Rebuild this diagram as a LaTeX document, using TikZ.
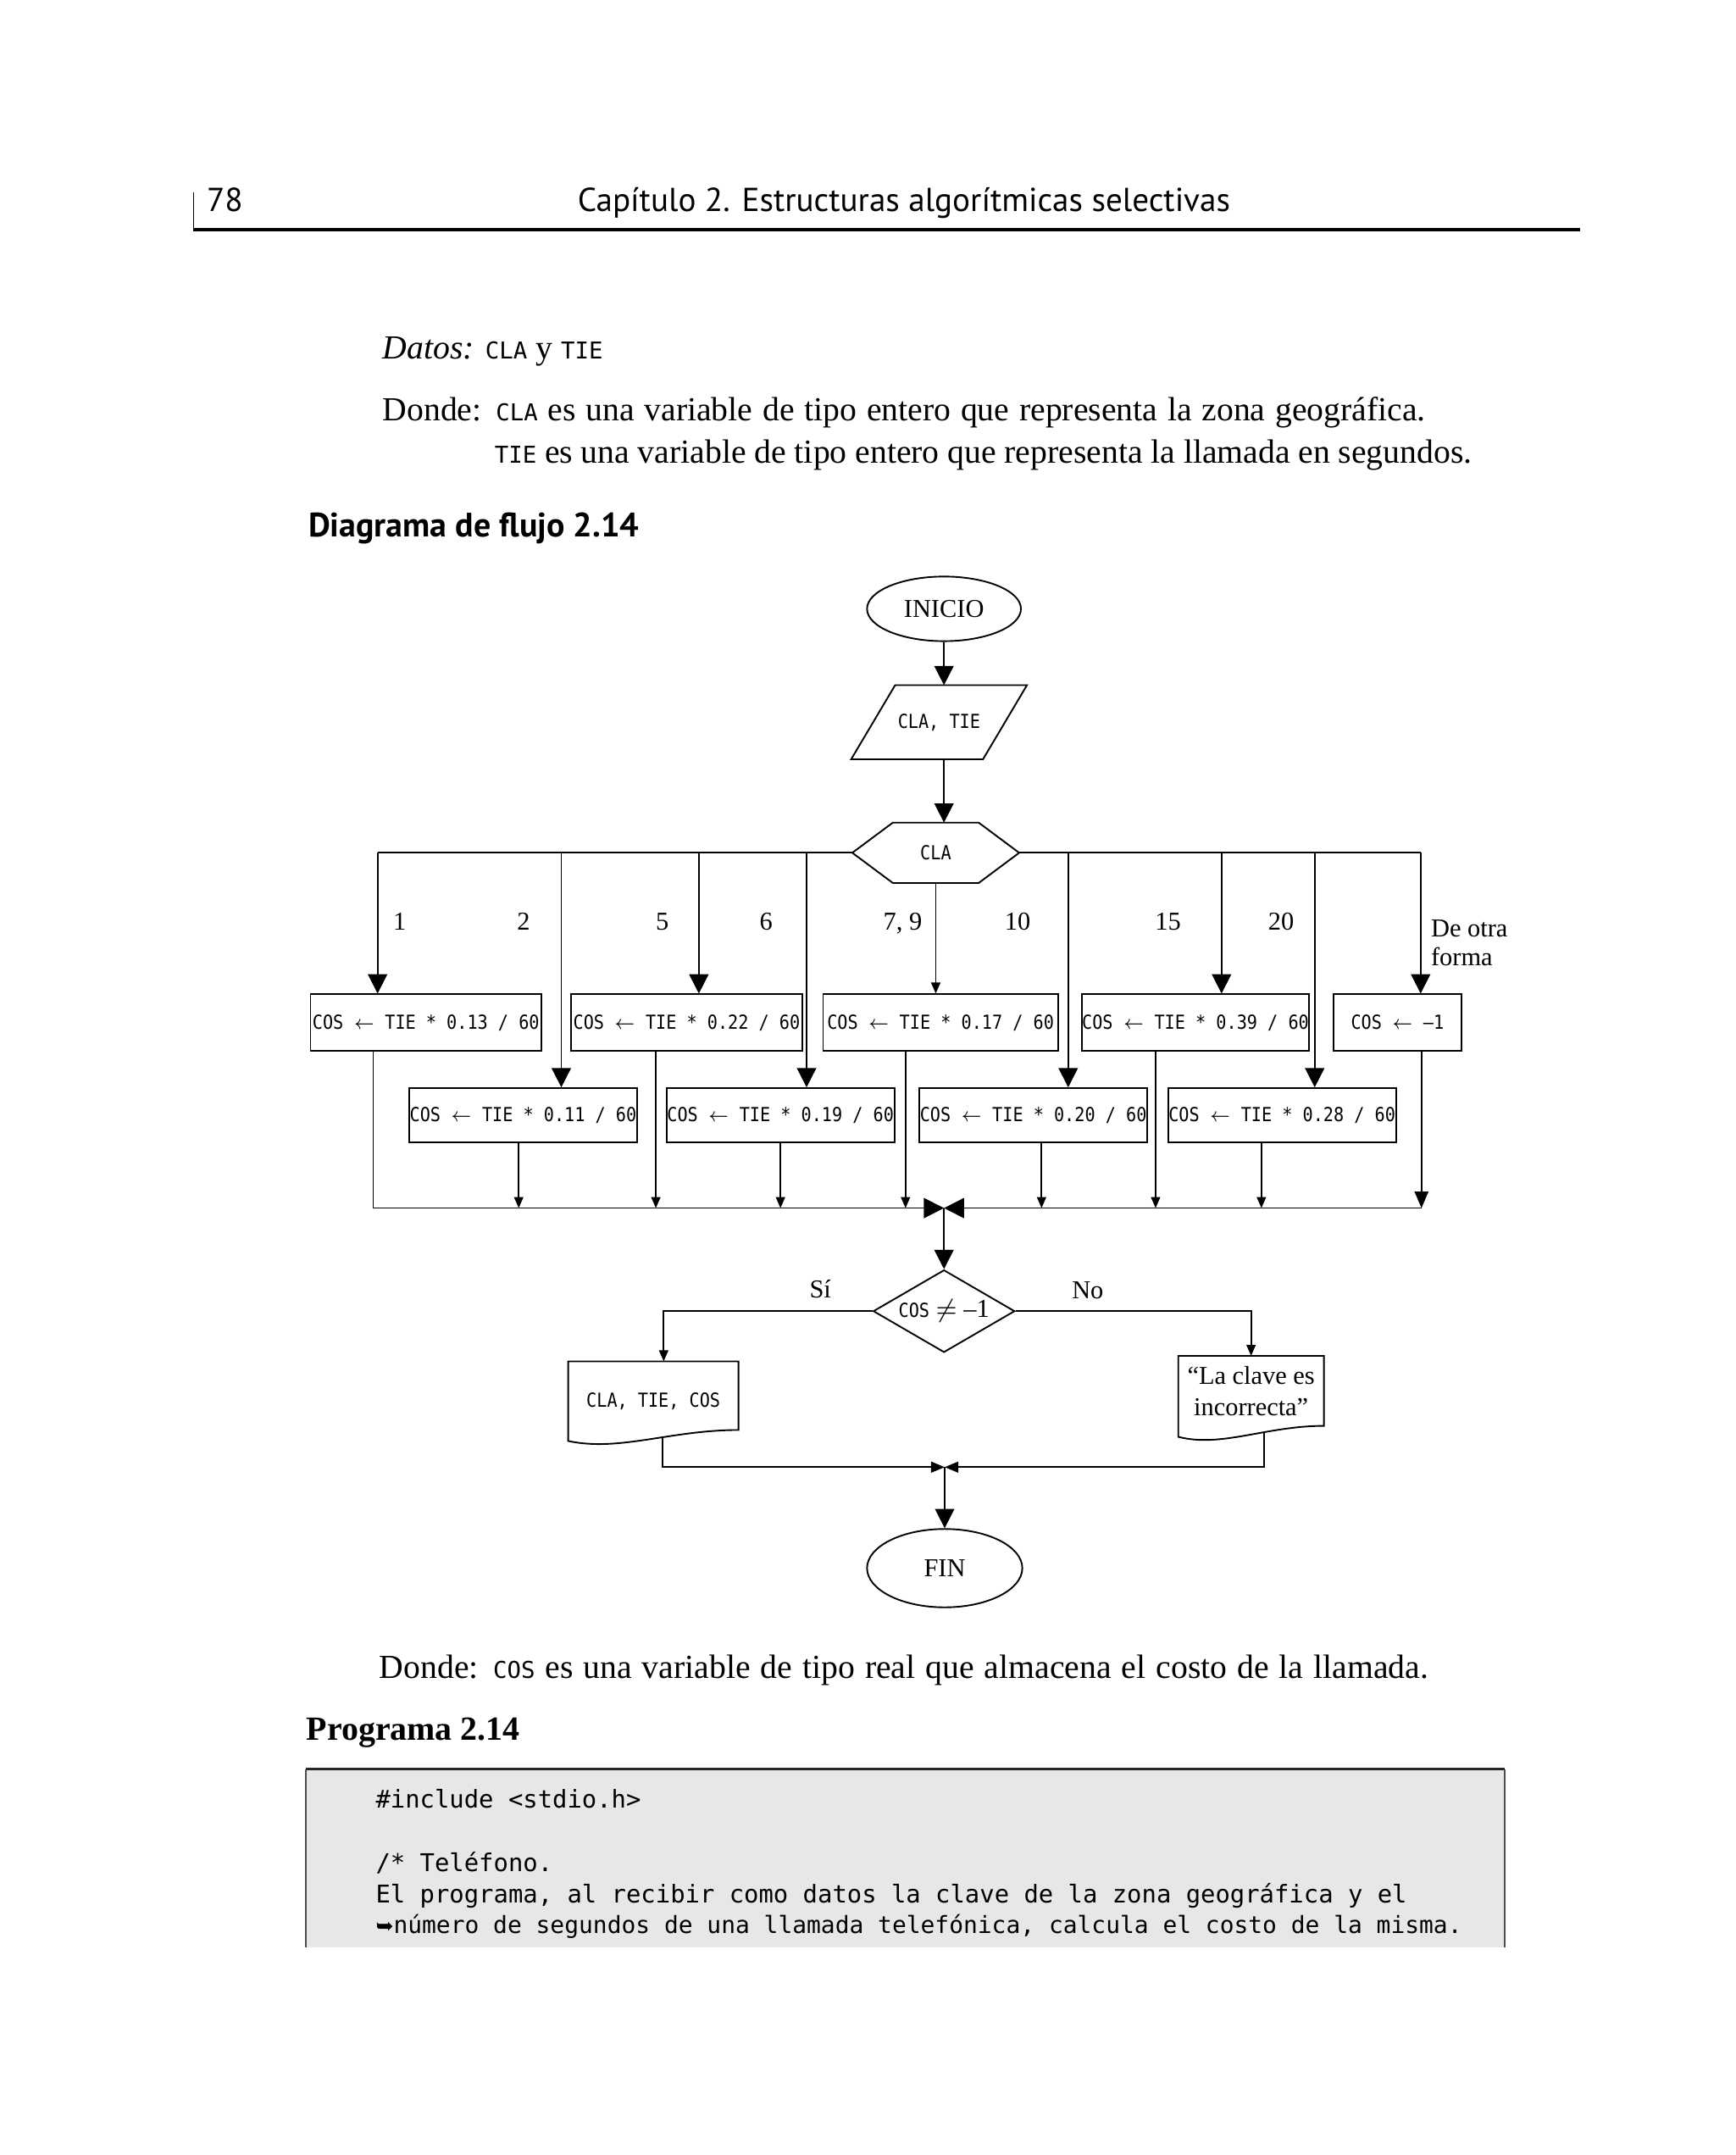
\documentclass[tikz,border=0pt]{standalone}
\usepackage{fontspec}
\setmainfont{Liberation Serif}
\setsansfont{PT Sans}
\setmonofont{DejaVu Sans Mono}
\newfontfamily\symfont{DejaVu Sans}
\usetikzlibrary{arrows.meta,shapes.geometric,calc}

\newcommand{\vtt}[1]{{\ttfamily\fontsize{7.2}{8}\selectfont #1}}
\newcommand{\ftt}[1]{\scalebox{0.885}[1]{\ttfamily\fontsize{6}{7}\selectfont #1}}
\definecolor{codebg}{gray}{0.905}

\begin{document}
\begin{tikzpicture}[x=0.015cm, y=-0.015cm]
    % Styles
    \tikzstyle{txt} = [inner sep=0pt, anchor=base west, font=\fontsize{10.45}{12}\selectfont]
    \tikzstyle{head} = [inner sep=0pt, anchor=base west, font=\sffamily\fontsize{10.3}{12}\selectfont]
    \tikzstyle{code} = [inner sep=0pt, anchor=base west, font=\ttfamily\fontsize{7.6}{9}\selectfont]
    \tikzstyle{terminal} = [ellipse, draw, line width=0.5pt, inner sep=0pt, font=\fontsize{8}{9}\selectfont]
    \tikzstyle{proc} = [rectangle, draw, line width=0.5pt, minimum width=2.49cm, minimum height=0.615cm,
                        inner sep=0pt]
    \tikzstyle{shapebox} = [rectangle, inner sep=0pt]
    \tikzstyle{decision} = [diamond, draw, line width=0.5pt, aspect=1.72, minimum width=1.545cm, minimum height=0.9cm,
                            inner sep=0pt, font=\fontsize{8}{9}\selectfont]
    \tikzstyle{lbl} = [inner sep=0pt, font=\fontsize{8}{9}\selectfont]
    \tikzstyle{outline} = [line width=0.5pt]
    \tikzstyle{arrow} = [line width=0.45pt, -{Triangle[length=0.21cm, width=0.21cm]}]
    \tikzstyle{arrowmd} = [line width=0.45pt, -{Triangle[length=0.18cm, width=0.15cm]}]
    \tikzstyle{arrowsm} = [line width=0.45pt, -{Triangle[length=0.12cm, width=0.1cm]}]
    \tikzstyle{bow} = [line width=0.45pt, -{Triangle[length=0.22cm, width=0.22cm]}]
    \tikzstyle{bowsm} = [line width=0.45pt, -{Triangle[length=0.15cm, width=0.12cm]}]

    \useasboundingbox (0,0) rectangle (1263,1568);

    % Page head
    \draw [line width=0.4pt] (141,140) -- (141,167);
    \draw [line width=1pt] (140.8,167) -- (1150,167);
    \node (pag) [head] at (150,153.6) {78};
    \node (cap) [head] at (420,153.6) {Capítulo 2. Estructuras algorítmicas selectivas};

    % Text before the chart
    \node (datostxt) [txt] at (278,261) {\textit{Datos:} \vtt{CLA} y \vtt{TIE}};
    \node (donde1) [txt] at (278,306)
        {\makebox[11.385cm][s]{Donde: \vtt{CLA} es una variable de tipo entero que representa la zona geográfica.}};
    \node (donde2) [txt] at (359.5,337)
        {\makebox[10.67cm][s]{\vtt{TIE} es una variable de tipo entero que representa la llamada en segundos.}};
    \node (tit1) [head, font=\sffamily\bfseries\fontsize{10.5}{12}\selectfont] at (224,390.5) {Diagrama de flujo 2.14};

    % Nodes
    \node (inicio) [terminal, minimum width=1.68cm, minimum height=0.705cm] at (687,443) {INICIO};
    \node (datos) [shapebox, minimum width=1.905cm, minimum height=0.795cm] at (683.4,525.5) {\ftt{CLA, TIE}};
    \node (cla) [shapebox, minimum width=1.8075cm, minimum height=0.645cm] at (681,620.5) {\ftt{CLA}};

    \node (c1) [proc, minimum width=2.52cm] at (310,744) {\ftt{COS $\leftarrow$ TIE * 0.13 / 60}};
    \node (c5) [proc, minimum width=2.52cm] at (499.7,744) {\ftt{COS $\leftarrow$ TIE * 0.22 / 60}};
    \node (c79) [proc, minimum width=2.565cm] at (684.5,744) {\ftt{COS $\leftarrow$ TIE * 0.17 / 60}};
    \node (c15) [proc, minimum width=2.46cm] at (870,744) {\ftt{COS $\leftarrow$ TIE * 0.39 / 60}};
    \node (cotra) [proc, minimum width=1.395cm] at (1017,744) {\ftt{COS $\leftarrow$ –1}};

    \node (c2) [proc, minimum height=0.5925cm] at (380.7,811.5) {\ftt{COS $\leftarrow$ TIE * 0.11 / 60}};
    \node (c6) [proc, minimum height=0.5925cm] at (568,811.5) {\ftt{COS $\leftarrow$ TIE * 0.19 / 60}};
    \node (c10) [proc, minimum height=0.5925cm] at (752,811.5) {\ftt{COS $\leftarrow$ TIE * 0.20 / 60}};
    \node (c20) [proc, minimum height=0.5925cm] at (933,811.5) {\ftt{COS $\leftarrow$ TIE * 0.28 / 60}};

    \node (cond) [decision] at (687,954) {\ftt{COS} $\neq$ –1};
    \node (dsal) [shapebox, minimum width=1.845cm, minimum height=0.735cm, text height=0.246cm, text depth=0cm]
        at (475.5,1015.5) {\ftt{CLA, TIE, COS}};
    \node (dmsg) [shapebox, minimum width=1.575cm, minimum height=0.75cm, align=center,
                  font=\fontsize{8}{9.8}\selectfont] at (910.5,1012) {“La clave es\\incorrecta”};
    \node (fin) [terminal, minimum width=1.695cm, minimum height=0.855cm] at (687.5,1141) {FIN};

    % Outlines of the shapes drawn round plain nodes
    \draw [outline] ($(datos.north west)+(32,0)$) -- (datos.north east)
        -- ($(datos.south east)+(-32,0)$) -- (datos.south west) -- cycle;
    \draw [outline] (cla.west) -- ($(cla.north west)+(29.5,0)$) -- ($(cla.north east)+(-29.5,0)$)
        -- (cla.east) -- ($(cla.south east)+(-29.5,0)$) -- ($(cla.south west)+(29.5,0)$) -- cycle;
    \draw [outline] (dsal.north west) -- (dsal.north east) -- (dsal.south east)
        .. controls ($(dsal.south east)!0.4!(dsal.south west)$) and ($(dsal.south east)!0.7!(dsal.south west)+(0,16)$)
        .. ($(dsal.south west)+(0,8)$) -- cycle;
    \draw [outline] (dmsg.north west) -- (dmsg.north east) -- (dmsg.south east)
        .. controls ($(dmsg.south east)!0.4!(dmsg.south west)$) and ($(dmsg.south east)!0.7!(dmsg.south west)+(0,16)$)
        .. ($(dmsg.south west)+(0,8)$) -- cycle;

    % Case labels
    \node (l1) [lbl, anchor=base] at (290.8,677) {1};
    \node (l2) [lbl, anchor=base] at (381,677) {2};
    \node (l5) [lbl, anchor=base] at (482,677) {5};
    \node (l6) [lbl, anchor=base] at (557.5,677) {6};
    \node (l79) [lbl, anchor=base] at (657,677) {7, 9};
    \node (l10) [lbl, anchor=base] at (740.6,677) {10};
    \node (l15) [lbl, anchor=base] at (850,677) {15};
    \node (l20) [lbl, anchor=base] at (932.4,677) {20};
    \node (lotra) [lbl, anchor=base west] at (1041,681.5) {De otra};
    \node (lforma) [lbl, anchor=base west] at (1041,702.5) {forma};
    \node (si) [lbl, anchor=base] at (597,944.5) {Sí};
    \node (no) [lbl, anchor=base] at (791.6,945) {No};

    % Branch points
    \coordinate (b1) at (274.8,620.5);
    \coordinate (b2) at (408.5,620.5);
    \coordinate (b5) at (508.6,620.5);
    \coordinate (b6) at (587,620.5);
    \coordinate (b10) at (777.4,620.5);
    \coordinate (b15) at (889,620.5);
    \coordinate (b20) at (956.8,620.5);
    \coordinate (bo) at (1033.9,620.5);
    % Joining points
    \coordinate (join) at (687,879);
    \coordinate (cl) at (271.6,879);
    \coordinate (cr) at (1034.5,879);
    \coordinate (d2) at (377.5,879);
    \coordinate (d5) at (477.3,879);
    \coordinate (d6) at (568,879);
    \coordinate (d79) at (659,879);
    \coordinate (d10) at (758,879);
    \coordinate (d15) at (841,879);
    \coordinate (d20) at (918,879);
    \coordinate (join2) at (687.5,1067.5);

    % Arrows
    \draw [arrow] (inicio) -- (datos.north -| inicio);
    \draw [arrow] (datos.south -| inicio) -- (cla.north -| inicio);
    \draw [line width=0.45pt] (cla.west) -- (b1);
    \draw [line width=0.45pt] (cla.east) -- (bo);
    \draw [arrow] (b1) -- (b1 |- c1.north);
    \draw [arrow] (b2) -- (b2 |- c2.north);
    \draw [arrow] (b5) -- (b5 |- c5.north);
    \draw [arrow] (b6) -- (b6 |- c6.north);
    \draw [arrowsm] (cla.south) -- (cla.south |- c79.north);
    \draw [arrow] (b10) -- (b10 |- c10.north);
    \draw [arrow] (b15) -- (b15 |- c15.north);
    \draw [arrow] (b20) -- (b20 |- c20.north);
    \draw [arrow] (bo) -- (bo |- cotra.north);

    \draw [bow] (c1.south -| cl) -- (cl) -- (join);
    \draw [arrowmd] (cotra.south -| cr) -- (cr);
    \draw [bow] (cr) -- (join);
    \draw [arrowsm] (c2.south -| d2) -- (d2);
    \draw [arrowsm] (c5.south -| d5) -- (d5);
    \draw [arrowsm] (c6.south -| d6) -- (d6);
    \draw [arrowsm] (c79.south -| d79) -- (d79);
    \draw [arrowsm] (c10.south -| d10) -- (d10);
    \draw [arrowsm] (c15.south -| d15) -- (d15);
    \draw [arrowsm] (c20.south -| d20) -- (d20);

    \draw [arrow] (join) -- (cond);
    \draw [arrowsm] (cond.west) -| ($(dsal.north)+(7.5,0)$);
    \draw [arrowsm] (cond.east) -| (dmsg.north);
    \draw [bowsm] ($(dsal.south)+(6.5,5)$) |- (join2);
    \draw [bowsm] ($(dmsg.south)+(9.5,5)$) |- (join2);
    \draw [arrow] (join2) -- (fin);

    % Text after the chart
    \node (donde3) [txt] at (275.7,1221)
        {\makebox[11.45cm][s]{Donde: \vtt{COS} es una variable de tipo real que almacena el costo de la llamada.}};
    \node (tit2) [txt, font=\bfseries\fontsize{10.5}{12}\selectfont] at (222.6,1266) {Programa 2.14};

    % Program box
    \fill [codebg] (222.6,1287.4) rectangle (1095,1417);
    \draw [line width=0.4pt, black!70] (222.6,1417) -- (222.6,1287.4);
    \draw [line width=0.4pt, black!70] (1095,1287.4) -- (1095,1417);
    \draw [line width=0.8pt, black!85] (222.6,1287.4) -- (1095,1287.4);
    \node (code1) [code] at (273,1315.6) {\#include <stdio.h>};
    \node (code2) [code] at (273,1361.7) {/* Teléfono.};
    \node (code3) [code] at (273,1384.5) {El programa, al recibir como datos la clave de la zona geográfica y el};
    \node (code4) [code, font=\ttfamily\fontsize{7.35}{9}\selectfont] at (273,1407)
        {{\symfont\fontsize{6.6}{9}\selectfont ➥}número de segundos de una llamada telefónica, calcula el costo de la misma.};

\end{tikzpicture}
\end{document}
